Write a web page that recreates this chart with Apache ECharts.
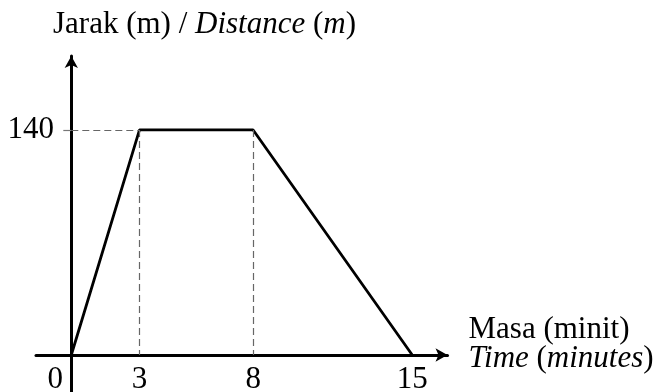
<!DOCTYPE html>
<html>
<head>
<meta charset="utf-8">
<script src="https://cdn.jsdelivr.net/npm/echarts@6/dist/echarts.min.js"></script>
<style>html,body{margin:0;padding:0;background:#fff;}#c{width:664px;height:392px;}</style>
</head>
<body>
<div id="c"></div>
<script>
const times = [0, 3, 8, 15];
const distances = [0, 140, 140, 0];
const xTickValues = [0, 3, 8, 15];
const yTickValues = [140];

const FONT = '"Liberation Serif", "Times New Roman", serif';
const FS = 31;

// dashed guide lines from data: horizontal to the first peak, verticals at plateau ends
const peakIdx = [1, 2];
const guides = [
  [{ coord: [0, distances[1]] }, { coord: [times[1], distances[1]] }]
].concat(peakIdx.map(i => [{ coord: [times[i], distances[i]] }, { coord: [times[i], 0] }]));

const chart = echarts.init(document.getElementById('c'), null, { renderer: 'canvas' });
chart.setOption({
  backgroundColor: '#fff',
  animation: false,
  title: {
    text: '{r|Jarak (m) / }{i|Distance}{r| (}{i|m}{r|)}',
    left: 48,
    top: 4,
    textStyle: {
      fontWeight: 'normal',
      rich: {
        r: { fontFamily: FONT, fontSize: FS, fontWeight: 'normal', color: '#000' },
        i: { fontFamily: FONT, fontSize: FS, fontWeight: 'normal', fontStyle: 'italic', color: '#000' }
      }
    }
  },
  grid: { left: 36, right: 216.5, top: 56, bottom: 0, containLabel: false, outerBoundsMode: 'none' },
  xAxis: {
    type: 'value',
    min: -1.553,
    max: 16.55,
    splitLine: { show: false },
    axisLine: {
      onZero: true,
      symbol: ['none', 'arrow'],
      symbolSize: [10, 12],
      lineStyle: { color: '#000', width: 3 }
    },
    axisTick: { show: false },
    axisLabel: {
      customValues: xTickValues,
      margin: -28,
      fontFamily: FONT,
      fontSize: FS,
      color: '#000',
      formatter: v => v === 0 ? '{z|0}' : String(v),
      rich: { z: { fontFamily: FONT, fontSize: FS, color: '#000', padding: [0, 32, 10, 0] } }
    },
    name: '{r|Masa (minit)}\n{i|Time}{r| (}{i|minutes}{r|)}',
    nameLocation: 'end',
    nameGap: 21,
    nameTextStyle: {
      align: 'left',
      padding: [0, 0, 22, 0],
      rich: {
        r: { fontFamily: FONT, fontSize: FS, color: '#000', lineHeight: 29 },
        i: { fontFamily: FONT, fontSize: FS, fontStyle: 'italic', color: '#000', lineHeight: 29 }
      }
    }
  },
  yAxis: {
    type: 'value',
    min: -23,
    max: 186,
    splitLine: { show: false },
    axisLine: {
      onZero: true,
      symbol: ['none', 'arrow'],
      symbolSize: [10, 12],
      lineStyle: { color: '#000', width: 3 }
    },
    axisTick: {
      show: true,
      customValues: yTickValues,
      length: 8,
      lineStyle: { color: '#777', width: 1.2 }
    },
    axisLabel: {
      customValues: yTickValues,
      margin: -18,
      fontFamily: FONT,
      fontSize: FS,
      color: '#000'
    }
  },
  series: [{
    type: 'line',
    data: times.map((t, i) => [t, distances[i]]),
    symbol: 'none',
    lineStyle: { color: '#000', width: 2.8 },
    markLine: {
      silent: true,
      symbol: ['none', 'none'],
      label: { show: false },
      lineStyle: { color: '#666', width: 1.2, type: [7, 4] },
      data: guides
    },
    z: 3
  }]
});
</script>
</body>
</html>
